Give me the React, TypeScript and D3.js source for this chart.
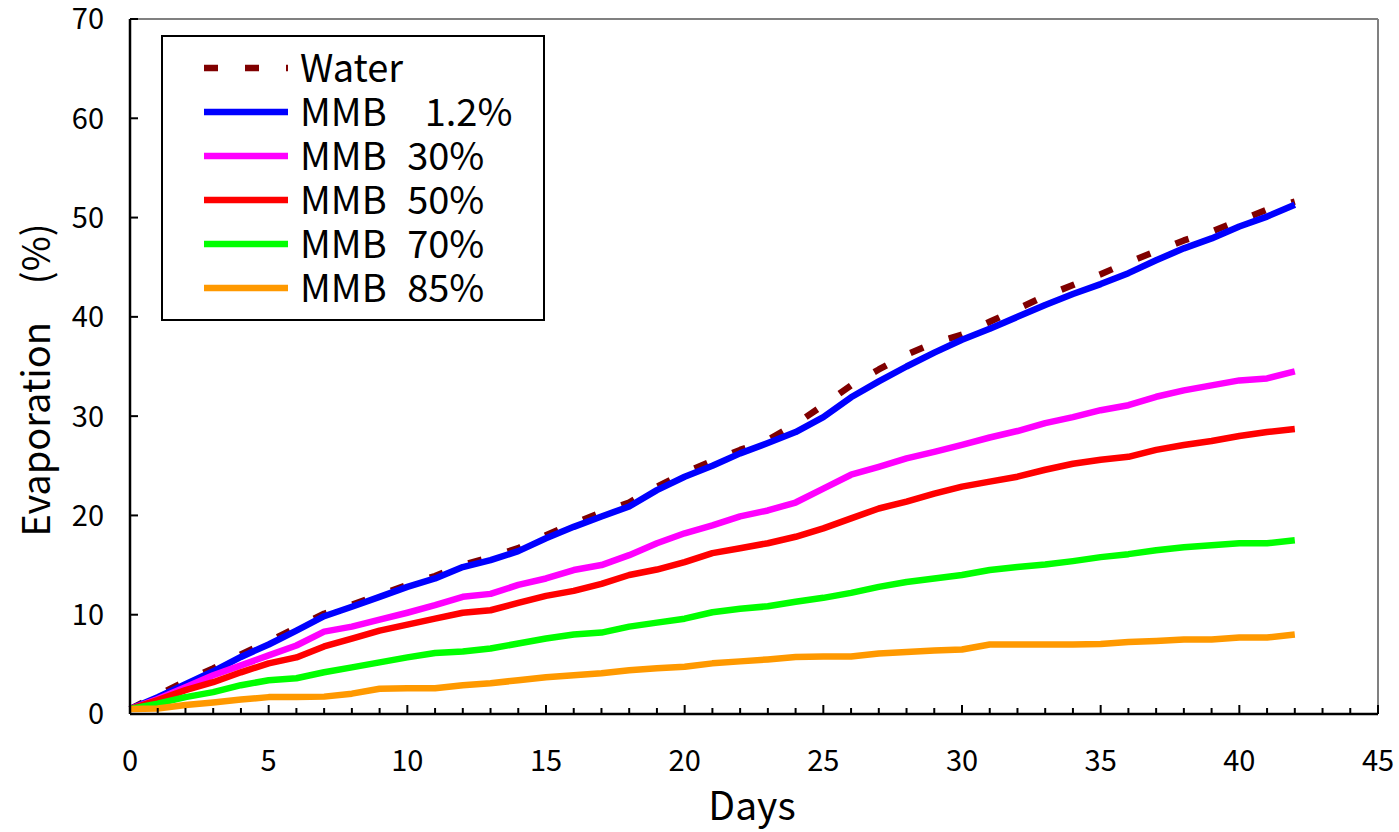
import React from "react";
import * as d3 from "d3";

const days = [0,1,2,3,4,5,6,7,8,9,10,11,12,13,14,15,16,17,18,19,20,21,22,23,24,25,26,27,28,29,30,31,32,33,34,35,36,37,38,39,40,41,42];

const water = [0.5,1.9,3.3,4.6,6.0,7.3,8.7,10.1,11.0,12.0,13.0,13.9,15.0,15.8,16.7,18.0,19.2,20.3,21.3,22.9,24.3,25.5,26.6,27.6,29.2,31.1,33.1,34.7,36.2,37.4,38.2,39.5,40.8,42.1,43.2,44.3,45.5,46.6,47.7,48.6,49.7,50.8,51.6];
const mmb12 = [0.5,1.7,3.0,4.3,5.75,7.0,8.4,9.85,10.8,11.8,12.8,13.65,14.8,15.5,16.4,17.7,18.85,19.9,20.9,22.55,23.9,25.0,26.25,27.3,28.4,29.9,31.9,33.5,35.0,36.4,37.7,38.8,40.0,41.2,42.3,43.3,44.4,45.7,46.9,47.9,49.1,50.1,51.3];
const mmb30 = [0.5,1.5,2.7,3.9,4.9,5.9,6.9,8.3,8.8,9.5,10.2,10.96,11.8,12.1,13.0,13.65,14.5,15.0,16.0,17.2,18.2,19.0,19.9,20.5,21.3,22.7,24.1,24.9,25.75,26.4,27.1,27.85,28.5,29.3,29.9,30.6,31.1,31.95,32.6,33.1,33.6,33.8,34.5];
const mmb50 = [0.5,1.4,2.4,3.2,4.2,5.1,5.7,6.8,7.6,8.4,9.0,9.6,10.2,10.45,11.2,11.9,12.4,13.1,14.0,14.55,15.3,16.2,16.7,17.2,17.85,18.7,19.7,20.7,21.4,22.2,22.9,23.4,23.9,24.6,25.2,25.6,25.9,26.6,27.1,27.5,28.0,28.4,28.7];
const mmb70 = [0.5,1.05,1.7,2.2,2.9,3.4,3.6,4.2,4.7,5.2,5.7,6.15,6.3,6.6,7.1,7.6,8.0,8.2,8.8,9.2,9.6,10.25,10.6,10.85,11.3,11.7,12.2,12.8,13.3,13.65,14.0,14.5,14.8,15.05,15.4,15.8,16.1,16.5,16.8,17.0,17.2,17.2,17.5];
const mmb85 = [0.5,0.55,0.9,1.15,1.45,1.7,1.7,1.75,2.05,2.55,2.6,2.6,2.9,3.1,3.4,3.7,3.9,4.1,4.4,4.6,4.75,5.1,5.3,5.5,5.75,5.8,5.8,6.1,6.25,6.4,6.5,7.0,7.0,7.0,7.0,7.05,7.25,7.35,7.5,7.5,7.7,7.7,8.0];

const seriesNames = ["Water", "MMB\u30001.2%", "MMB 30%", "MMB 50%", "MMB 70%", "MMB 85%"];
const seriesValues = [water, mmb12, mmb30, mmb50, mmb70, mmb85];
const seriesColors = ["#800000", "#0000FF", "#FF00FF", "#FF0000", "#00FF00", "#FF9900"];
const seriesDashed = [true, false, false, false, false, false];

const xTicks = [0,5,10,15,20,25,30,35,40,45];
const yTicks = [0,10,20,30,40,50,60,70];
const xMinorTicks = d3.range(0, 46, 1);

const FONT = "'Noto Sans CJK JP', 'Noto Sans', sans-serif";

export default function App() {
  const W = 1399, H = 832;
  const left = 130, right = 1378, top = 19, bottom = 714;
  const x = d3.scaleLinear().domain([0, 45]).range([left, right]);
  const y = d3.scaleLinear().domain([0, 70]).range([bottom, top]);
  const line = d3.line<[number, number]>().x(d => x(d[0])).y(d => y(d[1]));

  const legX = 162, legY = 36, legW = 382, legH = 284;
  const rowY0 = 68, rowStep = 44;

  return (
    <div style={{ position: "absolute", left: 0, top: 0 }}>
      <svg width={W} height={H} style={{ display: "block", background: "#fff" }} fontFamily={FONT}>
        {/* plot frame */}
        <line x1={left} y1={top} x2={right} y2={top} stroke="#808080" strokeWidth={2} />
        <line x1={right} y1={top} x2={right} y2={bottom} stroke="#808080" strokeWidth={2} />

        {/* series */}
        {seriesValues.map((vals, i) => (
          <path
            key={i}
            d={line(days.map((dd, j) => [dd, vals[j]] as [number, number])) || ""}
            fill="none"
            stroke={seriesColors[i]}
            strokeWidth={6.5}
            strokeLinejoin="round"
            strokeDasharray={seriesDashed[i] ? "14,27" : undefined}
          />
        ))}

        {/* axes */}
        <line x1={left} y1={top} x2={left} y2={bottom} stroke="#000" strokeWidth={2.5} />
        <line x1={left} y1={bottom} x2={right} y2={bottom} stroke="#000" strokeWidth={2.5} />
        {xMinorTicks.map(t => (
          <line key={"mx" + t} x1={x(t)} x2={x(t)} y1={bottom} y2={bottom - (t % 5 === 0 ? 9 : 6)} stroke="#000" strokeWidth={2} />
        ))}
        {yTicks.map(t => (
          <line key={"ty" + t} x1={left} x2={left + 8} y1={y(t)} y2={y(t)} stroke="#000" strokeWidth={2} />
        ))}
        {xTicks.map(t => (
          <text key={"lx" + t} x={x(t)} y={771} fontSize={29} textAnchor="middle" fill="#000">{t}</text>
        ))}
        {yTicks.map(t => (
          <text key={"ly" + t} x={104} y={y(t)} dy="0.36em" fontSize={29} textAnchor="end" fill="#000">{t}</text>
        ))}

        {/* axis titles */}
        <text x={752} y={820} fontSize={39} textAnchor="middle" fill="#000">Days</text>
        <text transform={`translate(50, 380) rotate(-90)`} fontSize={38} textAnchor="middle" fill="#000">{"Evaporation\u3000(%)"}</text>

        {/* legend */}
        <rect x={legX} y={legY} width={legW} height={legH} fill="#fff" stroke="#000" strokeWidth={2} />
        {seriesNames.map((n, i) => (
          <g key={"lg" + i}>
            <line x1={204} x2={288} y1={rowY0 + i * rowStep} y2={rowY0 + i * rowStep} stroke={seriesColors[i]} strokeWidth={6.5}
              strokeDasharray={seriesDashed[i] ? "14,27" : undefined} />
            <text x={300} y={rowY0 + i * rowStep} dy="0.36em" fontSize={38} wordSpacing={12} fill="#000">{n}</text>
          </g>
        ))}
      </svg>
    </div>
  );
}
